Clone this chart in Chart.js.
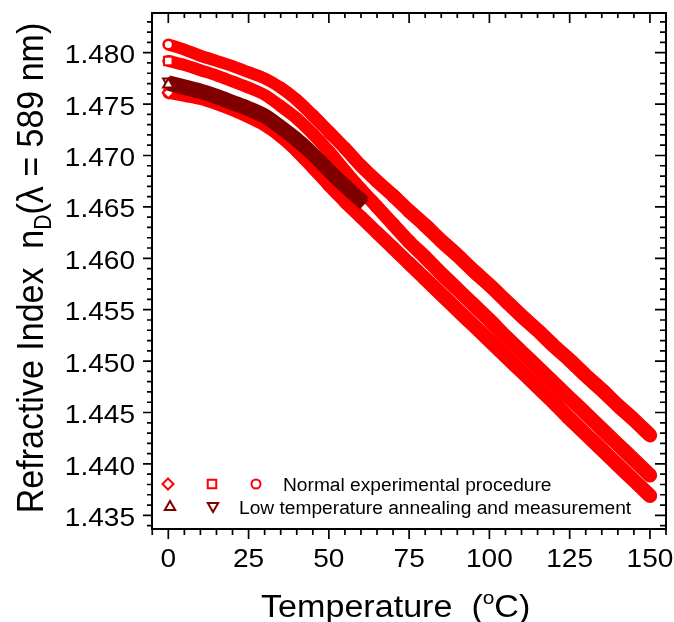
<!DOCTYPE html>
<html>
<head>
<meta charset="utf-8">
<script src="https://cdn.jsdelivr.net/npm/chart.js@4.4.1/dist/chart.umd.min.js"></script>
<style>
  html, body { margin: 0; padding: 0; background: #fff; }
  #contenedor { width: 674px; height: 622px; position: relative; }
</style>
</head>
<body>
<div id="contenedor"><canvas id="graficoIndice"></canvas></div>
<script>
// Datos (temperatura en oC, indice nD)
const temperatura = [0, 5, 10, 15, 20, 25, 30, 35, 40, 45, 50, 55, 60, 65, 70, 75,
  80, 85, 90, 95, 100, 105, 110, 115, 120, 125, 130, 135, 140, 145, 150];
const nCirculo = [1.4808, 1.4803, 1.4797, 1.4792, 1.4787, 1.4781, 1.4775, 1.4766, 1.4754, 1.4739,
  1.4723, 1.4707, 1.4690, 1.4675, 1.4661, 1.4646, 1.4632, 1.4617, 1.4603, 1.4588, 1.4574,
  1.4559, 1.4544, 1.4530, 1.4515, 1.4501, 1.4486, 1.4472, 1.4457, 1.4443, 1.4428];
const nCuadrado = [1.4792, 1.4788, 1.4783, 1.4778, 1.4772, 1.4766, 1.4759, 1.4748, 1.4736, 1.4721,
  1.4704, 1.4685, 1.4667, 1.4650, 1.4633, 1.4616, 1.4601, 1.4585, 1.4570, 1.4555, 1.4540,
  1.4524, 1.4509, 1.4494, 1.4479, 1.4464, 1.4449, 1.4434, 1.4419, 1.4404, 1.4389];
const nRombo = [1.4761, 1.4758, 1.4755, 1.4750, 1.4744, 1.4737, 1.4729, 1.4718, 1.4704, 1.4688,
  1.4671, 1.4655, 1.4640, 1.4625, 1.4610, 1.4595, 1.4580, 1.4565, 1.4550, 1.4535, 1.4520,
  1.4505, 1.4490, 1.4475, 1.4460, 1.4444, 1.4429, 1.4414, 1.4399, 1.4384, 1.4369];

const tempRecocido = [0, 5, 10, 15, 20, 25, 30, 35, 40, 45, 50, 55, 60, 61];
const nTrianguloArriba = [1.4769, 1.4765, 1.4761, 1.4756, 1.4750, 1.4744, 1.4737, 1.4726, 1.4714,
  1.4700, 1.4684, 1.4669, 1.4655, 1.4652];
const nTrianguloAbajo = [1.4772, 1.4768, 1.4764, 1.4759, 1.4753, 1.4747, 1.4740, 1.4729, 1.4717,
  1.4703, 1.4687, 1.4672, 1.4658, 1.4655];

const ticksX = [0, 25, 50, 75, 100, 125, 150];
const ticksY = [1.435, 1.440, 1.445, 1.450, 1.455, 1.460, 1.465, 1.470, 1.475, 1.480];

const ROJO = '#ff0000';
const GRANATE = '#800000';
const FUENTE = "'Liberation Sans', Arial, sans-serif";

function puntos(xs, ys) {
  return xs.map((x, i) => ({ x: x, y: ys[i] }));
}

// la banda de puntos se ensancha algo a altas temperaturas
function anchoBanda(c) {
  const t = c.p0.parsed.x;
  return 12 + 2.5 * Math.min(1, Math.max(0, (t - 30) / 50));
}

function serie(etiqueta, xs, ys, color, estilo, rot, radio, variable) {
  const s = {
    label: etiqueta,
    data: puntos(xs, ys),
    borderColor: color,
    borderWidth: 12.5,
    borderCapStyle: variable ? 'round' : 'butt',
    borderJoinStyle: 'round',
    tension: 0.3,
    fill: false,
    pointStyle: estilo,
    rotation: rot,
    pointRadius: c => (c.dataIndex === 0 ? radio : 0),
    pointBackgroundColor: '#fff',
    pointBorderColor: color,
    pointBorderWidth: 2
  };
  if (variable) s.segment = { borderWidth: anchoBanda };
  return s;
}

function texto(c, t, x, y, fuente, escala, alinear) {
  c.save();
  c.font = fuente;
  c.textAlign = alinear || 'left';
  c.textBaseline = 'alphabetic';
  c.translate(x, y);
  c.scale(escala, 1);
  c.fillText(t, 0, 0);
  c.restore();
}

// dibuja trozos de texto seguidos (para super/subindices)
function trozos(c, partes, x, y, escala) {
  let ancho = 0;
  partes.forEach(p => {
    c.font = p.f;
    c.save();
    c.translate(x + ancho * escala, y + (p.dy || 0));
    c.scale(escala, 1);
    c.fillText(p.t, 0, 0);
    c.restore();
    ancho += c.measureText(p.t).width;
  });
  return ancho * escala;
}

function marcador(c, estilo, rot, radio, color, x, y) {
  c.save();
  c.fillStyle = '#fff';
  c.strokeStyle = color;
  c.lineWidth = 2;
  Chart.helpers.drawPoint(c, { pointStyle: estilo, rotation: rot, radius: radio, borderWidth: 2 }, x, y);
  c.restore();
}

const marco = {
  id: 'marco',
  afterDraw(chart) {
    const c = chart.ctx, a = chart.chartArea;
    const sx = chart.scales.x, sy = chart.scales.y;
    c.save();
    c.strokeStyle = '#000';
    c.fillStyle = '#000';
    c.lineWidth = 2;
    c.strokeRect(a.left, a.top, a.right - a.left, a.bottom - a.top);

    c.lineWidth = 1.7;
    c.beginPath();
    for (let v = -5; v <= 155; v += 5) {
      const x = sx.getPixelForValue(v);
      const mayor = v % 25 === 0;
      c.moveTo(x, a.bottom); c.lineTo(x, a.bottom + (mayor ? 10 : 6));
      c.moveTo(x, a.top); c.lineTo(x, a.top + (mayor ? 10 : 5));
    }
    for (let k = 1434; k <= 1483; k++) {
      const y = sy.getPixelForValue(k / 1000);
      const mayor = k % 5 === 0;
      c.moveTo(a.left, y); c.lineTo(a.left - (mayor ? 9 : 5), y);
      c.moveTo(a.right, y); c.lineTo(a.right - (mayor ? 11 : 6), y);
    }
    c.stroke();

    const fTick = '25.5px ' + FUENTE;
    ticksY.forEach(v => {
      texto(c, v.toFixed(3), a.left - 17, sy.getPixelForValue(v) + 10.6, fTick, 1.1, 'right');
    });
    ticksX.forEach(v => {
      texto(c, String(v), sx.getPixelForValue(v), 567, fTick, 1.1, 'center');
    });

    // titulo eje x
    trozos(c, [
      { t: 'Temperature  (', f: '31px ' + FUENTE },
      { t: 'o', f: '19px ' + FUENTE, dy: -13.5 },
      { t: 'C)', f: '31px ' + FUENTE }
    ], 261, 617, 1.1);

    // titulo eje y (girado)
    const partesY = [
      { t: 'Refractive Index  n', f: '34px ' + FUENTE },
      { t: 'D', f: '21px ' + FUENTE, dy: 7 },
      { t: '(\u03bb = 589 nm)', f: '34px ' + FUENTE }
    ];
    let largo = 0;
    partesY.forEach(p => { c.font = p.f; largo += c.measureText(p.t).width; });
    c.save();
    c.translate(43, 268 + largo / 2);
    c.rotate(-Math.PI / 2);
    c.scale(1, 1.1);
    trozos(c, partesY, 0, 0, 1);
    c.restore();

    // leyenda
    marcador(c, 'rectRot', 0, 5.5, ROJO, 168, 484);
    marcador(c, 'rect', 0, 6, ROJO, 212, 484);
    marcador(c, 'circle', 0, 4.5, ROJO, 256, 484);
    marcador(c, 'triangle', 0, 6, GRANATE, 170, 507);
    marcador(c, 'triangle', 180, 6, GRANATE, 213, 506);
    c.fillStyle = '#000';
    const fLey = '18px ' + FUENTE;
    texto(c, 'Normal experimental procedure', 283, 490.5, fLey, 1.065, 'left');
    texto(c, 'Low temperature annealing and measurement', 239, 513.5, fLey, 1.065, 'left');
    c.restore();
  }
};

const grafico = new Chart(document.getElementById('graficoIndice').getContext('2d'), {
  type: 'line',
  data: {
    datasets: [
      serie('Triangulo arriba', tempRecocido, nTrianguloArriba, GRANATE, 'triangle', 0, 6, false),
      serie('Triangulo abajo', tempRecocido, nTrianguloAbajo, GRANATE, 'triangle', 180, 6, false),
      serie('Circulo', temperatura, nCirculo, ROJO, 'circle', 0, 4.5, true),
      serie('Cuadrado', temperatura, nCuadrado, ROJO, 'rect', 0, 6, true),
      serie('Rombo', temperatura, nRombo, ROJO, 'rectRot', 0, 5.5, true)
    ]
  },
  options: {
    responsive: true,
    maintainAspectRatio: false,
    animation: false,
    devicePixelRatio: 1,
    layout: { padding: { top: 13, right: 8, left: 0, bottom: 0 } },
    plugins: {
      legend: { display: false },
      tooltip: { enabled: false }
    },
    scales: {
      x: {
        type: 'linear',
        min: -5.08,
        max: 155,
        grid: { display: false },
        border: { display: false },
        ticks: { display: false },
        afterFit: s => { s.height = 93; }
      },
      y: {
        type: 'linear',
        min: 1.43367,
        max: 1.48386,
        grid: { display: false },
        border: { display: false },
        ticks: { display: false },
        afterFit: s => { s.width = 152; }
      }
    }
  },
  plugins: [marco]
});
</script>
</body>
</html>
